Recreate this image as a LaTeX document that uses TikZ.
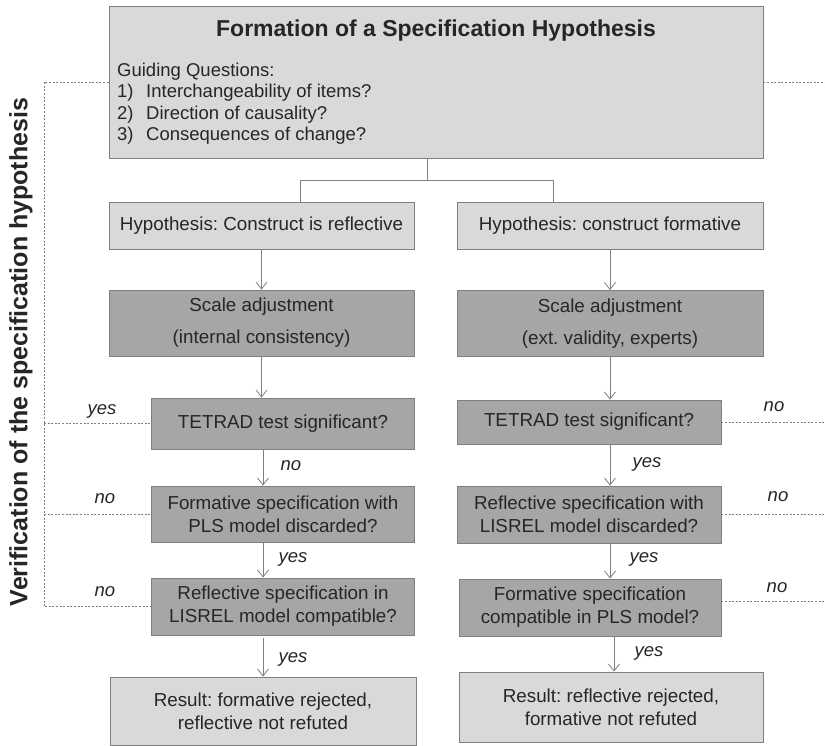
\documentclass[tikz,border=0pt]{standalone}
\usepackage{fontspec}
\setmainfont{Liberation Sans}
\usetikzlibrary{arrows.meta}
\definecolor{boxlight}{HTML}{D9D9D9}
\definecolor{boxdark}{HTML}{A6A6A6}
\definecolor{edge}{HTML}{7F7F7F}
\definecolor{ink}{HTML}{262626}
\frenchspacing
\begin{document}
\begin{tikzpicture}[x=1pt,y=-1pt,
  every node/.style={text=ink},
  lightbox/.style={draw=edge, line width=0.8pt, fill=boxlight, inner sep=0pt,
    align=center, font=\fontsize{18.8}{23}\selectfont},
  darkbox/.style={draw=edge, line width=0.8pt, fill=boxdark, inner sep=0pt,
    align=center, font=\fontsize{18.8}{23}\selectfont},
  arr/.style={draw=edge, line width=0.8pt, -{Straight Barb[length=7pt,width=11pt]}},
  link/.style={draw=edge, line width=0.8pt},
  dots/.style={draw=edge, line width=0.7pt, dash pattern=on 2pt off 1.6pt},
  ans/.style={font=\fontsize{18.5}{20}\selectfont\itshape}
]
\useasboundingbox (0,0) rectangle (825,745);
\fill[white] (0,0) rectangle (825,745);

% top box with title and guiding questions
\node[lightbox, minimum width=654pt, minimum height=152pt] (top) at (436,82) {};
\node[font=\fontsize{23}{26}\selectfont\bfseries] (title) at (436,31) {Formation of a Specification Hypothesis};
\node[anchor=north west, align=left, inner sep=0pt, font=\fontsize{18.5}{21.2}\selectfont] (guide) at (117,63)
  {Guiding Questions:\\
   \makebox[29pt][l]{1)}Interchangeability of items?\\
   \makebox[29pt][l]{2)}Direction of causality?\\
   \makebox[29pt][l]{3)}Consequences of change?};

% hypotheses
\node[lightbox, minimum width=305pt, minimum height=47pt] (hypL) at (261.5,225.5) {Hypothesis: Construct is reflective};
\node[lightbox, minimum width=306pt, minimum height=47pt] (hypR) at (610,225.5) {Hypothesis: construct formative};

% scale adjustment
\node[darkbox, minimum width=305pt, minimum height=66pt] (scaleL) at (261.5,323) {Scale adjustment\\[9pt](internal consistency)};
\node[darkbox, minimum width=306pt, minimum height=66pt] (scaleR) at (610,323.5) {Scale adjustment\\[9pt](ext. validity, experts)};

% left column checks
\node[darkbox, minimum width=263pt, minimum height=51pt] (tetL) at (283,423.5) {TETRAD test significant?};
\node[darkbox, minimum width=263pt, minimum height=56pt] (formL) at (283,514) {Formative specification with\\PLS model discarded?};
\node[darkbox, minimum width=263pt, minimum height=57pt] (reflL) at (283,606.5) {Reflective specification in\\LISREL model compatible?};
\node[lightbox, minimum width=306pt, minimum height=68pt] (resL) at (263,711) {Result: formative rejected,\\reflective not refuted};

% right column checks
\node[darkbox, minimum width=264pt, minimum height=44pt] (tetR) at (589,422) {TETRAD test significant?};
\node[darkbox, minimum width=264pt, minimum height=57pt] (reflR) at (589,514.5) {Reflective specification with\\LISREL model discarded?};
\node[darkbox, minimum width=262pt, minimum height=57pt] (formR) at (590,607.5) {Formative specification\\compatible in PLS model?};
\node[lightbox, minimum width=304pt, minimum height=70pt] (resR) at (611,707) {Result: reflective rejected,\\formative not refuted};

% split below the top box
\coordinate (split) at (427,180);
\coordinate (jL) at (300,180);
\coordinate (jR) at (553,180);
\draw[link] (split |- top.south) -- (split);
\draw[link] (jL |- hypL.north) -- (jL) -- (jR) -- (jR |- hypR.north);

% left flow
\draw[arr] (hypL.south) -- (scaleL.north);
\draw[arr] (scaleL.south) -- (scaleL.south |- tetL.north);
\draw[arr] (tetL.south -| 263,0) -- (formL.north -| 263,0);
\draw[arr] (formL.south -| 263,0) -- (reflL.north -| 263,0);
\draw[arr] (reflL.south -| 263,0) ++(0,3) -- (resL.north);

% right flow
\draw[arr] (hypR.south) -- (scaleR.north);
\draw[arr] (scaleR.south) -- (scaleR.south |- tetR.north);
\draw[arr] (tetR.south -| 610,0) -- (reflR.north -| 610,0);
\draw[arr] (reflR.south -| 610,0) -- (formR.north -| 610,0);
\draw[arr] (formR.south -| 614,0) -- (resR.north -| 614,0);

% answers along the flow
\node[ans] at (291,466) {no};
\node[ans] at (293,559) {yes};
\node[ans] at (293,659) {yes};
\node[ans] at (647,464) {yes};
\node[ans] at (644,559) {yes};
\node[ans] at (649,653) {yes};

% verification feedback, left
\coordinate (spine) at (44,0);
\draw[dots] (top.west) -- (top.west -| spine) -- (reflL.west -| spine) -- (reflL.west);
\draw[dots] (tetL.west -| spine) -- (tetL.west);
\draw[dots] (formL.west -| spine) -- (formL.west);
\node[ans] at (102,411) {yes};
\node[ans] at (105,499) {no};
\node[ans] at (105,592) {no};

% verification feedback, right
\coordinate (rim) at (825,0);
\draw[dots] (top.east) -- (top.east -| rim);
\draw[dots] (tetR.east) -- (tetR.east -| rim);
\draw[dots] (reflR.east) -- (reflR.east -| rim);
\draw[dots] ([yshift=6pt]formR.east) -- ([yshift=6pt]formR.east -| rim);
\node[ans] at (774,407) {no};
\node[ans] at (778,497) {no};
\node[ans] at (777,588) {no};

% side caption
\node[rotate=90, font=\fontsize{25}{28}\selectfont\bfseries] (caption) at (21,352) {Verification of the specification hypothesis};
\end{tikzpicture}
\end{document}
